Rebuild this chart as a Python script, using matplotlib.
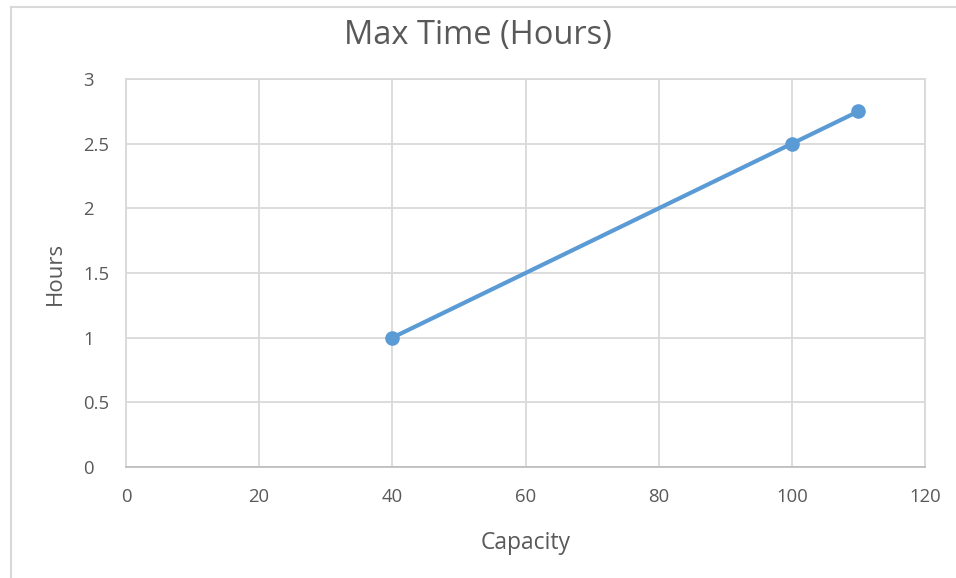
"""Tempo máximo em horas em função da capacidade."""

import matplotlib.pyplot as plt
from matplotlib.lines import Line2D

plt.rcParams["font.family"] = ["Open Sans", "DejaVu Sans"]

capacidade = [40, 100, 110]
horas = [1, 2.5, 2.75]
x_ticks = [0, 20, 40, 60, 80, 100, 120]
y_ticks = [0, 0.5, 1, 1.5, 2, 2.5, 3]
y_labels = ["0", "0.5", "1", "1.5", "2", "2.5", "3"]

cinza_texto = "#595959"
cinza_grade = "#D9D9D9"
azul = "#5B9BD5"

fig = plt.figure(figsize=(9.56, 5.78), dpi=100)
ax = fig.add_axes([0.1318, 0.192, 0.8358, 0.6713])

ax.plot(capacidade, horas, color=azul, linewidth=3, marker="o",
        markersize=9.5, solid_capstyle="round", zorder=3)

ax.set_xlim(0, 120)
ax.set_ylim(0, 3)
ax.set_xticks(x_ticks)
ax.set_yticks(y_ticks)
ax.set_yticklabels(y_labels)
ax.grid(True, color=cinza_grade, linewidth=1.3)
ax.set_axisbelow(True)
for lado in ax.spines.values():
    lado.set_color(cinza_grade)
    lado.set_linewidth(1.3)
ax.spines["bottom"].set_color("#BFBFBF")

ax.tick_params(axis="x", length=0, pad=15, labelsize=13.3, labelcolor=cinza_texto)
ax.tick_params(axis="y", length=0, pad=31, labelsize=13.3, labelcolor=cinza_texto)
for rotulo in ax.get_yticklabels():
    rotulo.set_horizontalalignment("left")

ax.set_xlabel("Capacity", fontsize=16.5, color=cinza_texto, labelpad=18)
ax.set_ylabel("Hours", fontsize=16, color=cinza_texto, labelpad=12)
fig.text(0.5, 0.938, "Max Time (Hours)", ha="center", va="center",
         fontsize=23.5, color=cinza_texto)

# moldura clara do gráfico (esquerda e topo)
fig.add_artist(Line2D([0.0115, 0.0115], [0.0, 0.988], color=cinza_grade,
                      linewidth=1.5, transform=fig.transFigure))
fig.add_artist(Line2D([0.0115, 1.0], [0.988, 0.988], color=cinza_grade,
                      linewidth=1.5, transform=fig.transFigure))

fig.savefig("out.png", dpi=100)
plt.close(fig)
